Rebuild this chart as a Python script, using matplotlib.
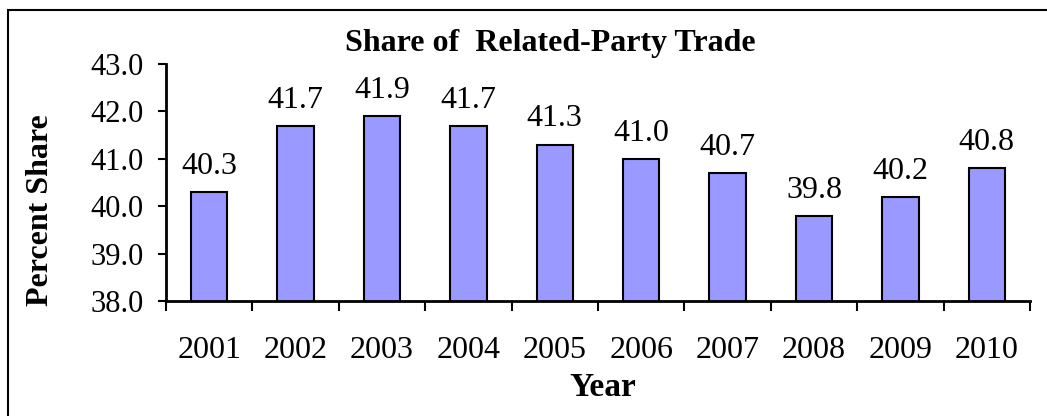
import matplotlib
matplotlib.use('Agg')
import matplotlib.pyplot as plt
from matplotlib.patches import Rectangle
import numpy as np

years = ['2001', '2002', '2003', '2004', '2005', '2006', '2007', '2008', '2009', '2010']
share = [40.3, 41.7, 41.9, 41.7, 41.3, 41.0, 40.7, 39.8, 40.2, 40.8]
yticks = [38.0, 39.0, 40.0, 41.0, 42.0, 43.0]

plt.rcParams['font.family'] = ['Liberation Serif', 'DejaVu Serif']

W, H = 1047, 416
fig = plt.figure(figsize=(W / 100, H / 100), dpi=100)
ax = fig.add_axes([166 / W, 1 - 301 / H, (1030 - 166) / W, (301 - 64) / H])

x = np.arange(len(years))
ax.bar(x, share, width=0.42, color='#9999FF', edgecolor='black', linewidth=1.5)

for xi, v in zip(x, share):
	ax.annotate('%.1f' % v, (xi, v), xytext=(0, 8), textcoords='offset points',
		ha='center', va='bottom', fontsize=23)

ax.set_xlim(-0.5, len(years) - 0.5)
ax.set_ylim(38.0, 43.0)
ax.set_yticks(yticks)
ax.set_yticklabels(['%.1f' % t for t in yticks], fontsize=22)
ax.set_xticks(x)
ax.set_xticklabels(years, fontsize=23)
ax.set_xticks(np.arange(len(years) + 1) - 0.5, minor=True)
ax.tick_params(axis='x', which='major', length=0, pad=25)
ax.tick_params(axis='x', which='minor', length=7.5, width=1.5, direction='out')
ax.tick_params(axis='y', which='major', length=6, width=1.5, direction='out', pad=10)

for s in ['top', 'right']:
	ax.spines[s].set_visible(False)
for s in ['left', 'bottom']:
	ax.spines[s].set_linewidth(2)

fig.text(41 / W, 1 - 210 / H, 'Percent Share', rotation=90, ha='center', va='center',
	fontsize=23, fontweight='bold')
fig.text(550 / W, 1 - 44 / H, 'Share of  Related-Party Trade', ha='center', va='center',
	fontsize=23, fontweight='bold')
fig.text(603 / W, 1 - 388 / H, 'Year', ha='center', va='center', fontsize=24, fontweight='bold')

fig.patches.append(Rectangle((8 / W, -0.2), 1.2, 1.2 - 10 / H, transform=fig.transFigure,
	fill=False, edgecolor='black', linewidth=1.5, clip_on=False))

fig.savefig('out.png', dpi=100)
